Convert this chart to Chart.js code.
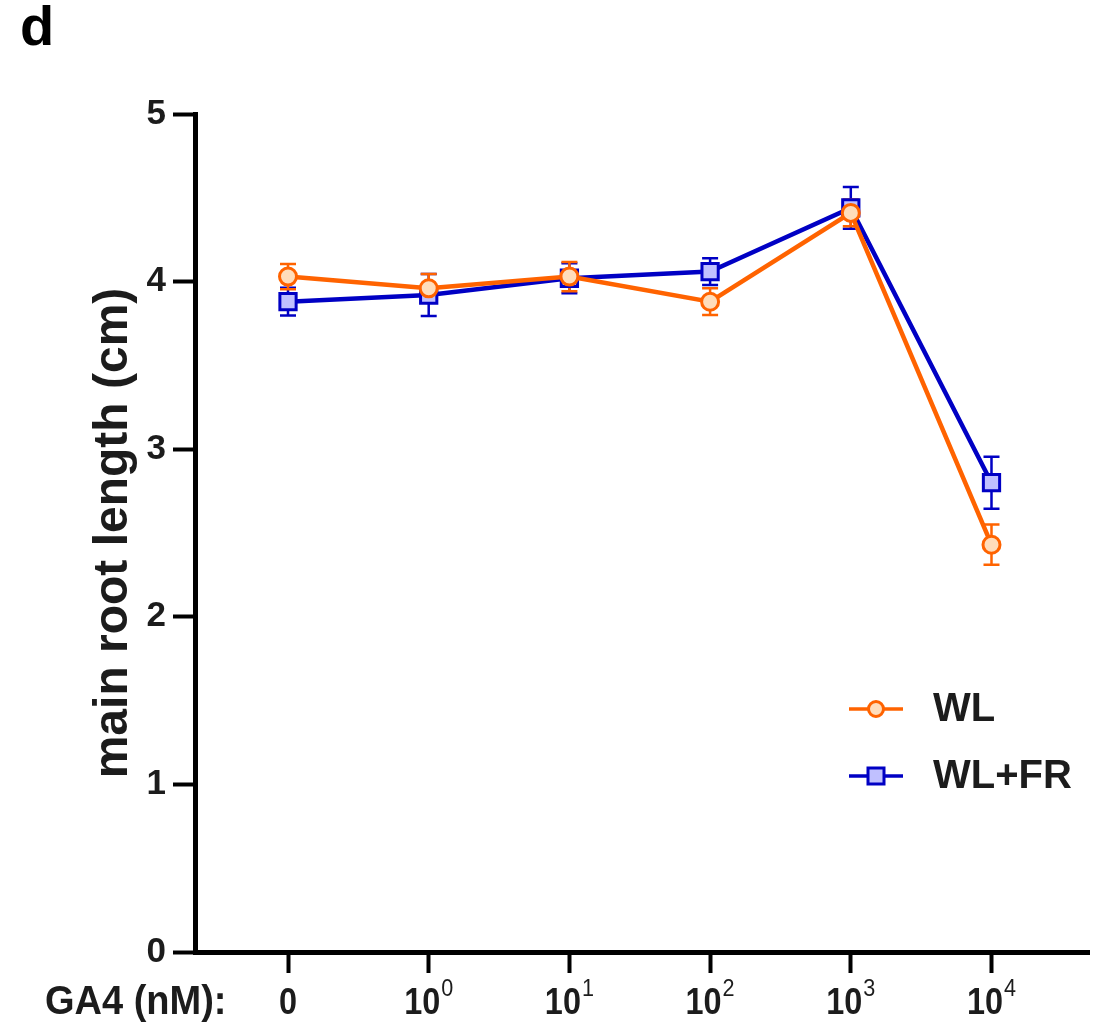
<!DOCTYPE html>
<html><head><meta charset="utf-8">
<script src="https://cdn.jsdelivr.net/npm/chart.js@4.4.0/dist/chart.umd.min.js"></script>
<style>html,body{margin:0;padding:0;background:#fff}canvas{display:block}</style>
</head><body>
<canvas id="c" width="1106" height="1027"></canvas>
<script>
// ---- data ----
const categories = ['0', '10^0', '10^1', '10^2', '10^3', '10^4'];
const tickBase = ['0', '10', '10', '10', '10', '10'];
const tickExp = ['', '0', '1', '2', '3', '4'];
const yTicks = [0, 1, 2, 3, 4, 5];
const seriesNames = ['WL', 'WL+FR'];
const wlMean = [4.03, 3.96, 4.03, 3.88, 4.41, 2.43];
const wlErr = [0.075, 0.085, 0.087, 0.08, 0.08, 0.12];
const frMean = [3.88, 3.92, 4.02, 4.06, 4.44, 2.80];
const frErr = [0.083, 0.125, 0.09, 0.08, 0.125, 0.155];
const xAxisLabel = 'GA4 (nM):';
const yAxisLabel = 'main root length (cm)';
const panelLabel = 'd';

const FONT = '"Liberation Sans", Arial, Helvetica, sans-serif';
const TXT = '#1c1c1c';
const ORANGE = '#FF6300', ORANGE_FILL = '#FFDDBB';
const BLUE = '#0000C4', BLUE_FILL = '#C0C0FF';

const errorBars = {
  id: 'errorBars',
  beforeDatasetsDraw(chart) {
    const {ctx, scales: {x, y}} = chart;
    for (let di = chart.data.datasets.length - 1; di >= 0; di--) {
      const ds = chart.data.datasets[di];
      ctx.save();
      ctx.strokeStyle = ds.borderColor;
      ctx.lineWidth = 2.5;
      ds.data.forEach((p, i) => {
        const e = ds.errors[i];
        const px = x.getPixelForValue(p.x);
        const t = y.getPixelForValue(p.y + e);
        const b = y.getPixelForValue(p.y - e);
        ctx.beginPath();
        ctx.moveTo(px, t); ctx.lineTo(px, b);
        ctx.moveTo(px - 8, t); ctx.lineTo(px + 8, t);
        ctx.moveTo(px - 8, b); ctx.lineTo(px + 8, b);
        ctx.stroke();
      });
      ctx.restore();
    }
  }
};

function condensedText(ctx, text, x, y, sx) {
  ctx.save();
  ctx.translate(x, y);
  ctx.scale(sx, 1);
  ctx.fillText(text, 0, 0);
  ctx.restore();
}

const decorations = {
  id: 'decorations',
  afterDraw(chart) {
    const {ctx, scales: {x}} = chart;
    ctx.save();
    ctx.fillStyle = '#000';
    ctx.textBaseline = 'alphabetic';
    ctx.textAlign = 'left';
    // panel label
    ctx.font = 'bold 56px ' + FONT;
    ctx.fillText(panelLabel, 20, 45);
    // x axis caption
    ctx.fillStyle = TXT;
    ctx.font = 'bold 40px ' + FONT;
    condensedText(ctx, xAxisLabel, 45, 1014, 0.95);
    // x tick labels with superscripts
    const SX = 0.9;
    const baseFont = 'bold 36px ' + FONT;
    const expFont = '24px ' + FONT;
    categories.forEach((c, i) => {
      const px = x.getPixelForValue(i);
      ctx.font = baseFont;
      const wb = ctx.measureText(tickBase[i]).width * SX;
      ctx.font = expFont;
      const we = tickExp[i] ? ctx.measureText(tickExp[i]).width * SX + 1 : 0;
      const start = px - (wb + we) / 2;
      ctx.font = baseFont;
      condensedText(ctx, tickBase[i], start, 1014, SX);
      if (tickExp[i]) {
        ctx.font = expFont;
        condensedText(ctx, tickExp[i], start + wb + 1, 996, SX);
      }
    });
    // legend
    const items = chart.data.datasets;
    const ly = [709, 776];
    items.forEach((ds, i) => {
      const y0 = ly[i];
      ctx.strokeStyle = ds.borderColor;
      ctx.lineWidth = 3.5;
      ctx.beginPath(); ctx.moveTo(849, y0); ctx.lineTo(903, y0); ctx.stroke();
      ctx.fillStyle = ds.pointBackgroundColor;
      ctx.lineWidth = 3;
      ctx.beginPath();
      if (ds.pointStyle === 'circle') {
        ctx.arc(876, y0, 7.5, 0, Math.PI * 2);
      } else {
        ctx.rect(876 - 8, y0 - 8, 16, 16);
      }
      ctx.fill(); ctx.stroke();
      ctx.fillStyle = TXT;
      ctx.font = 'bold 40px ' + FONT;
      ctx.textBaseline = 'middle';
      ctx.fillText(ds.label, 933, y0 + 1);
      ctx.textBaseline = 'alphabetic';
    });
    ctx.restore();
  }
};

new Chart(document.getElementById('c'), {
  type: 'line',
  data: {
    datasets: [
      {
        label: seriesNames[0],
        data: wlMean.map((v, i) => ({x: i, y: v})),
        errors: wlErr,
        borderColor: ORANGE,
        backgroundColor: ORANGE_FILL,
        pointBackgroundColor: ORANGE_FILL,
        pointBorderColor: ORANGE,
        pointStyle: 'circle',
        pointRadius: 8.5,
        pointBorderWidth: 3,
        borderWidth: 4.5,
        tension: 0
      },
      {
        label: seriesNames[1],
        data: frMean.map((v, i) => ({x: i, y: v})),
        errors: frErr,
        borderColor: BLUE,
        backgroundColor: BLUE_FILL,
        pointBackgroundColor: BLUE_FILL,
        pointBorderColor: BLUE,
        pointStyle: 'rect',
        pointRadius: 11.5,
        pointBorderWidth: 3,
        borderWidth: 4.5,
        tension: 0
      }
    ]
  },
  options: {
    responsive: false,
    animation: false,
    devicePixelRatio: 1,
    layout: {padding: {top: 114, right: 17, left: 0, bottom: 0}},
    plugins: {legend: {display: false}, tooltip: {enabled: false}},
    scales: {
      x: {
        type: 'linear',
        min: -0.661,
        max: 5.693,
        afterBuildTicks(scale) { scale.ticks = categories.map((c, i) => ({value: i})); },
        afterFit(scale) { scale.height = 75; },
        ticks: {display: false},
        grid: {drawOnChartArea: false, drawTicks: true, tickLength: 21, tickWidth: 4, tickColor: '#000'},
        border: {display: true, color: '#000', width: 5}
      },
      y: {
        min: 0,
        max: 5,
        afterBuildTicks(scale) { scale.ticks = yTicks.map(v => ({value: v})); },
        afterFit(scale) { scale.width = 195; },
        ticks: {color: TXT, font: {family: FONT, size: 35, weight: 'bold'}, padding: 7},
        grid: {drawOnChartArea: false, drawTicks: true, tickLength: 22, tickWidth: 4, tickColor: '#000'},
        border: {display: true, color: '#000', width: 5},
        title: {display: true, text: yAxisLabel, color: TXT, font: {family: FONT, size: 48, weight: 'bold'}, padding: {top: 85, bottom: 0}}
      }
    }
  },
  plugins: [errorBars, decorations]
});
</script>
</body></html>
